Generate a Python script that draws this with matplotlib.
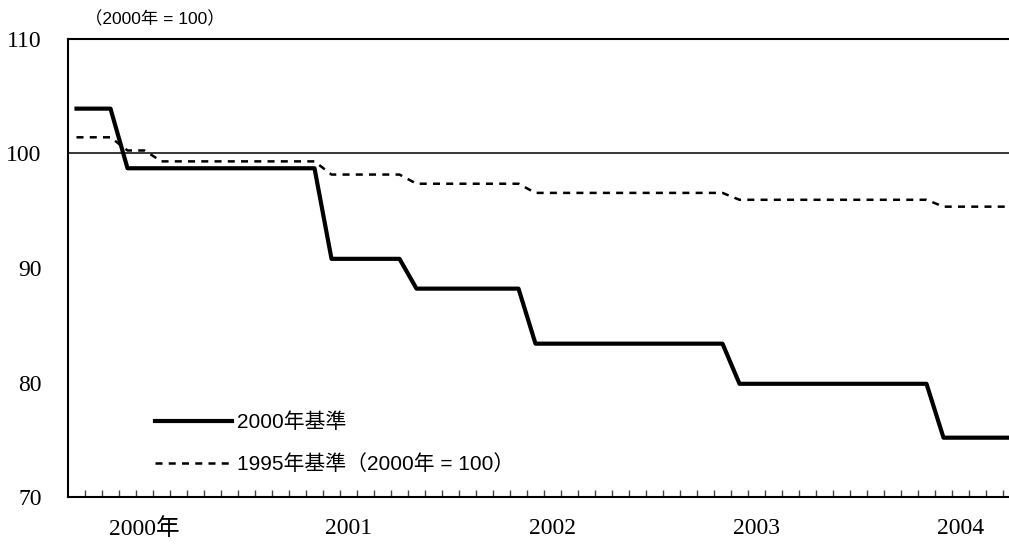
import matplotlib
matplotlib.use('Agg')
import matplotlib.pyplot as plt
from matplotlib.font_manager import FontProperties
import numpy as np

# Monthly index values (Jan 2000 onward)
base2000 = [103.9, 103.9, 103.9,
            98.7, 98.7, 98.7, 98.7, 98.7, 98.7, 98.7, 98.7, 98.7, 98.7, 98.7, 98.7,
            90.8, 90.8, 90.8, 90.8, 90.8,
            88.2, 88.2, 88.2, 88.2, 88.2, 88.2, 88.2,
            83.4, 83.4, 83.4, 83.4, 83.4, 83.4, 83.4, 83.4, 83.4, 83.4, 83.4, 83.4,
            79.9, 79.9, 79.9, 79.9, 79.9, 79.9, 79.9, 79.9, 79.9, 79.9, 79.9, 79.9,
            75.2, 75.2, 75.2, 75.2, 75.2]
base1995 = [101.4, 101.4, 101.4,
            100.25, 100.25,
            99.3, 99.3, 99.3, 99.3, 99.3, 99.3, 99.3, 99.3, 99.3, 99.3,
            98.15, 98.15, 98.15, 98.15, 98.15,
            97.35, 97.35, 97.35, 97.35, 97.35, 97.35, 97.35,
            96.55, 96.55, 96.55, 96.55, 96.55, 96.55, 96.55, 96.55, 96.55, 96.55, 96.55, 96.55,
            95.95, 95.95, 95.95, 95.95, 95.95, 95.95, 95.95, 95.95, 95.95, 95.95, 95.95, 95.95,
            95.35, 95.35, 95.35, 95.35, 95.35]
series_labels = ['2000年基準', '1995年基準（2000年 = 100）']
year_label_index = [4, 16, 28, 40, 52]
year_labels = ['2000年', '2001', '2002', '2003', '2004']
y_ticks = [70, 80, 90, 100, 110]
unit_note = '（2000年 = 100）'

W, H = 1009, 546
fig = plt.figure(figsize=(W / 100, H / 100), dpi=100)
left_px, right_px, top_px, bottom_px = 68, 1009, 38.7, 497.3
ax = fig.add_axes([left_px / W, 1 - bottom_px / H, (right_px - left_px) / W, (bottom_px - top_px) / H])

n = len(base2000)
x = np.arange(n) + 0.5
month_w = 17.0
ax.set_xlim(0, (right_px - left_px) / month_w)
ax.set_ylim(70, 110)

ax.axhline(100, color='black', lw=1.1, zorder=1)
ax.plot(x, base2000, color='black', lw=3.0, label=series_labels[0], zorder=3)
ax.plot(x, base1995, color='black', lw=1.8, ls=(0, (2.8, 2.5)), label=series_labels[1], zorder=2)

ax.spines['right'].set_visible(False)
for s in ['left', 'bottom', 'top']:
    ax.spines[s].set_linewidth(1.5)

serif = ['Liberation Serif', 'Noto Sans CJK JP']
sans = ['Liberation Sans', 'Noto Sans CJK JP']

ax.set_yticks(y_ticks)
ax.set_yticklabels([str(v) for v in y_ticks], fontfamily=serif, fontsize=17)
ax.tick_params(axis='y', length=0, pad=19)

ax.set_xticks(np.arange(1, int(ax.get_xlim()[1]) + 1), minor=True)
ax.tick_params(axis='x', which='minor', direction='in', length=5, width=1, color='#444444')
ax.set_xticks([i + 0.5 for i in year_label_index])
ax.set_xticklabels(year_labels, fontfamily=serif, fontsize=17)
ax.tick_params(axis='x', which='major', length=0, pad=15)

leg = ax.legend(loc='center left',
                bbox_to_anchor=((155 - left_px) / (right_px - left_px), (bottom_px - 443.5) / (bottom_px - top_px)),
                frameon=False, borderpad=0, borderaxespad=0, handlelength=3.7, handletextpad=0.25,
                labelspacing=1.05, prop=FontProperties(family=sans, size=15))

fig.text(85 / W, 1 - 19 / H, unit_note, fontfamily=sans, fontsize=12.5, ha='left', va='center')

fig.savefig('out.png', dpi=100)
